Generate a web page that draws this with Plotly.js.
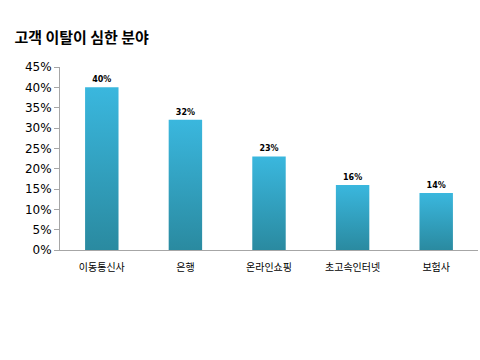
<!DOCTYPE html>
<html>
<head>
<meta charset="utf-8">
<script src="https://cdn.plot.ly/plotly-3.0.1.min.js"></script>
<style>html,body{margin:0;padding:0;background:#fff;}</style>
</head>
<body>
<div id="chart" style="width:480px;height:360px;"></div>
<script>
const categories = ["이동통신사", "은행", "온라인쇼핑", "초고속인터넷", "보험사"];
const values = [0.40, 0.32, 0.23, 0.16, 0.14];
const valueLabels = ["40%", "32%", "23%", "16%", "14%"];
const yTickValues = [0, 0.05, 0.10, 0.15, 0.20, 0.25, 0.30, 0.35, 0.40, 0.45];
const yTickLabels = ["0%", "5%", "10%", "15%", "20%", "25%", "30%", "35%", "40%", "45%"];

const KR = '"Noto Sans CJK KR", "Noto Sans", sans-serif';

const trace = {
  type: "bar",
  x: categories,
  y: values,
  text: valueLabels.map(function (s) { return "<b>" + s + "</b>"; }),
  textposition: "outside",
  cliponaxis: false,
  textfont: {family: "DejaVu Sans, sans-serif", size: 8, color: "#000"},
  marker: {color: "#33a6c6", line: {width: 0}},
  hoverinfo: "none"
};

const layout = {
  width: 480, height: 360,
  margin: {l: 60, r: 2, t: 67, b: 110},
  paper_bgcolor: "#fff", plot_bgcolor: "#fff",
  showlegend: false,
  bargap: 0.6,
  title: {text: "<b>고객 이탈이 심한 분야</b>", x: 0.03, xanchor: "left", y: 0.895, yanchor: "middle",
          font: {family: KR, size: 15, color: "#000"}},
  xaxis: {
    type: "category", range: [-0.5, 4.5],
    showline: true, linecolor: "#a6a6a6", linewidth: 1,
    ticks: "", showgrid: false, zeroline: false,
    tickfont: {family: KR, size: 10, color: "#000"},
    ticklabelstandoff: 8
  },
  yaxis: {
    range: [0, 0.45],
    tickvals: yTickValues, ticktext: yTickLabels,
    showline: true, linecolor: "#a6a6a6", linewidth: 1,
    ticks: "outside", ticklen: 5, tickcolor: "#a6a6a6",
    showgrid: false, zeroline: false,
    tickfont: {family: "DejaVu Sans, sans-serif", size: 12, color: "#000"}
  }
};

Plotly.newPlot("chart", [trace], layout, {displayModeBar: false, staticPlot: true}).then(function (gd) {
  const svg = gd.querySelector("svg.main-svg");
  const ns = "http://www.w3.org/2000/svg";
  let defs = svg.querySelector("defs");
  if (!defs) { defs = document.createElementNS(ns, "defs"); svg.insertBefore(defs, svg.firstChild); }
  const grad = document.createElementNS(ns, "linearGradient");
  grad.setAttribute("id", "barGrad");
  grad.setAttribute("x1", "0"); grad.setAttribute("y1", "0");
  grad.setAttribute("x2", "0"); grad.setAttribute("y2", "1");
  [["0%", "#3ab7de"], ["100%", "#2a8aa0"]].forEach(function (s) {
    const st = document.createElementNS(ns, "stop");
    st.setAttribute("offset", s[0]); st.setAttribute("stop-color", s[1]);
    grad.appendChild(st);
  });
  defs.appendChild(grad);
  gd.querySelectorAll(".bars .point path").forEach(function (p) {
    p.style.fill = "url(#barGrad)";
  });
});
</script>
</body>
</html>
